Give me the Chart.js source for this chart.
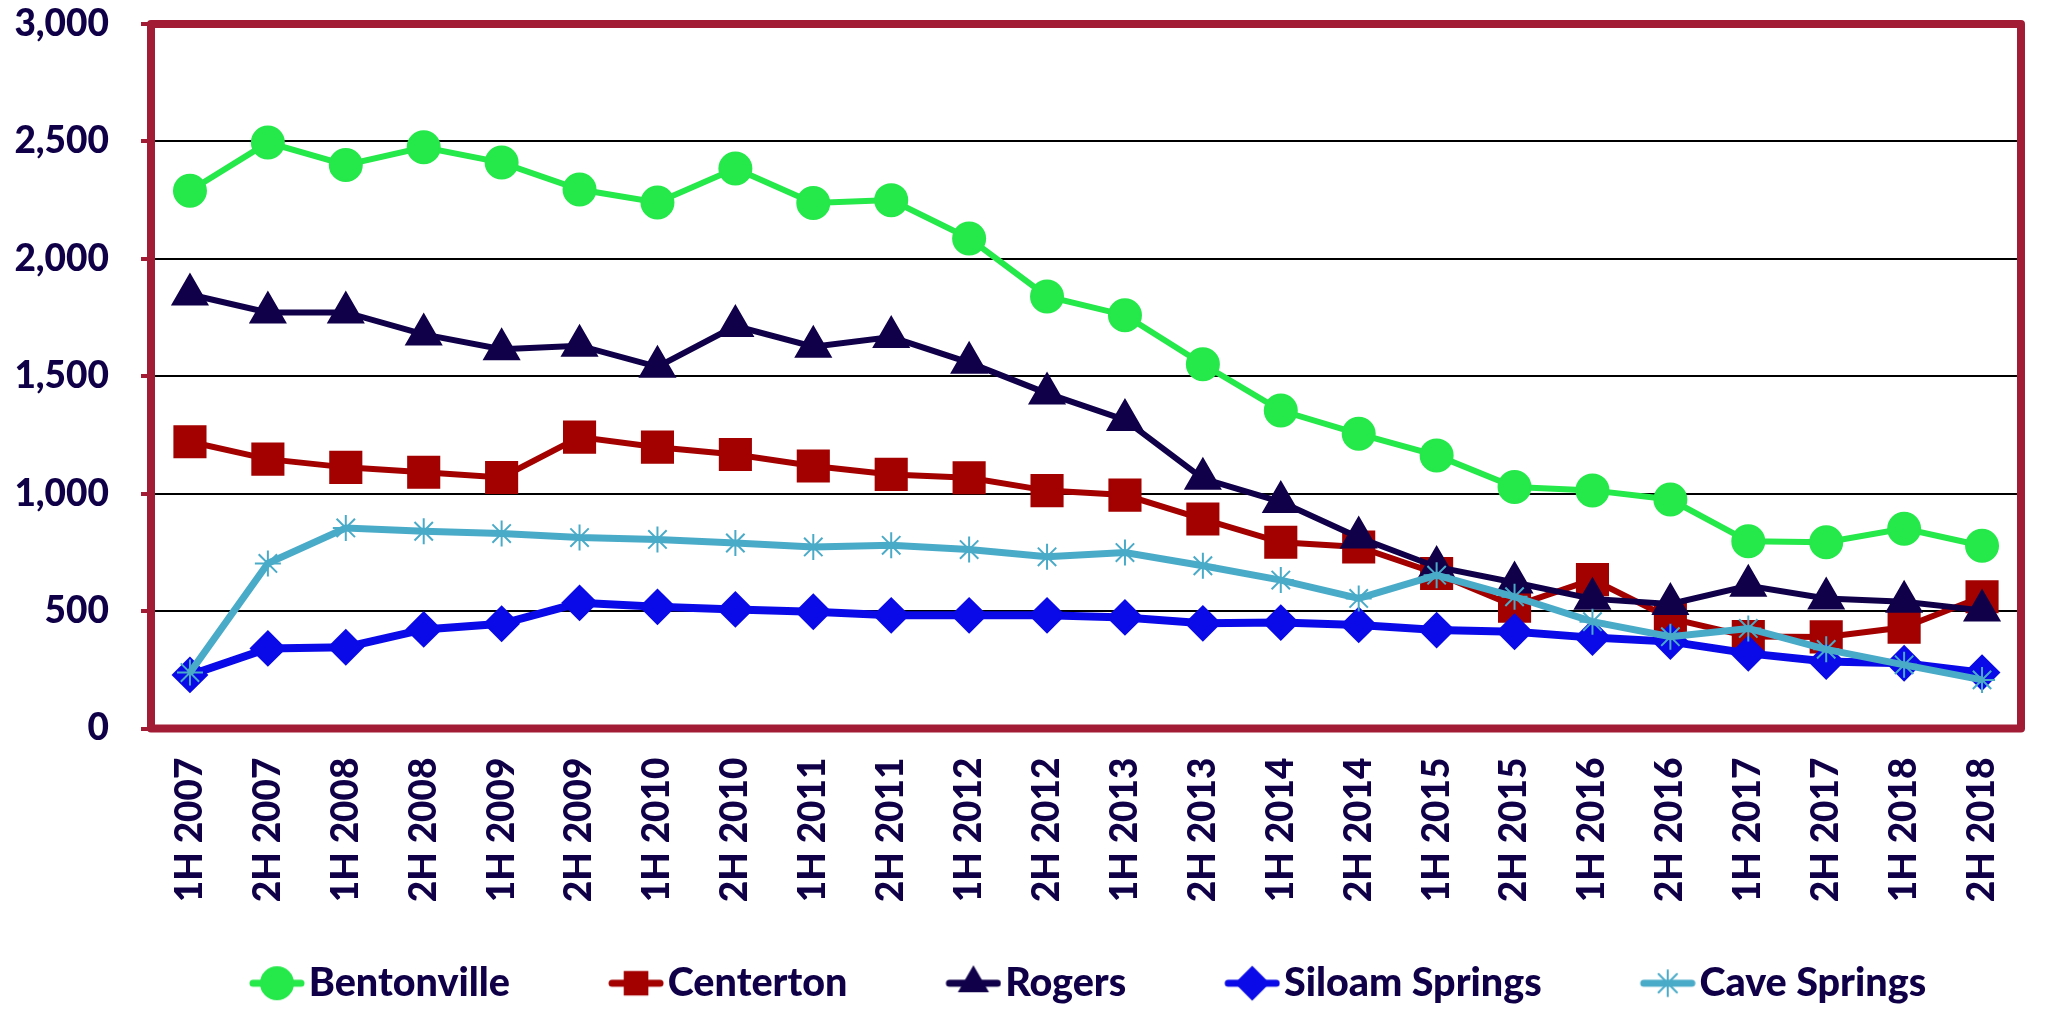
<!DOCTYPE html>
<html>
<head>
<meta charset="utf-8">
<title>Lots sold by city</title>
<script src="https://cdn.jsdelivr.net/npm/chart.js@4.4.1/dist/chart.umd.min.js"></script>
<style>
  html, body { margin: 0; padding: 0; background: #fff; overflow: hidden; }
  #wrap { width: 2045px; height: 1009px; }
</style>
</head>
<body>
<div id="wrap"><canvas id="chart" width="2045" height="1009"></canvas></div>
<script>
// data
const periods = ["1H 2007","2H 2007","1H 2008","2H 2008","1H 2009","2H 2009","1H 2010","2H 2010",
                 "1H 2011","2H 2011","1H 2012","2H 2012","1H 2013","2H 2013","1H 2014","2H 2014",
                 "1H 2015","2H 2015","1H 2016","2H 2016","1H 2017","2H 2017","1H 2018","2H 2018"];

const bentonville = [2290, 2495, 2400, 2475, 2410, 2295, 2240, 2385, 2238, 2250, 2087, 1840,
                     1760, 1551, 1354, 1255, 1163, 1028, 1014, 975, 797, 793, 851, 778];
const centerton   = [1221, 1147, 1112, 1091, 1069, 1241, 1198, 1167, 1118, 1082, 1068, 1013,
                     994, 892, 793, 773, 660, 521, 634, 469, 392, 390, 431, 561];
const rogers      = [1848, 1772, 1772, 1678, 1615, 1630, 1540, 1714, 1626, 1667, 1558, 1427,
                     1314, 1064, 965, 813, 688, 622, 552, 530, 608, 554, 540, 503];
const siloam      = [228, 341, 346, 422, 446, 535, 518, 507, 497, 482, 482, 482,
                     473, 448, 451, 441, 419, 412, 387, 370, 320, 285, 278, 238];
const cave        = [238, 703, 854, 840, 830, 813, 805, 790, 773, 780, 762, 731,
                     749, 693, 632, 554, 653, 561, 455, 391, 426, 337, 271, 207];

const yTicks = [0, 500, 1000, 1500, 2000, 2500, 3000];

// colors
const COL_BENT   = "#25E84A";  // green
const COL_CENT   = "#A30000";  // dark red
const COL_ROG    = "#10004A";  // navy
const COL_SIL    = "#0A0AE8";  // blue
const COL_CAVE   = "#4AABC8";  // teal
const COL_TEXT   = "#0F0048";
const COL_FRAME  = "#A21C36";

const FONT = "Lato, 'Open Sans', sans-serif";
const WEIGHT = "900";

// series setup
const series = [
  { label: "Bentonville",    data: bentonville, color: COL_BENT, style: "circle",   radius: 16, width: 6 },
  { label: "Centerton",      data: centerton,   color: COL_CENT, style: "rect",     radius: 22, width: 6 },
  { label: "Rogers",         data: rogers,      color: COL_ROG,  style: "triangle", radius: 20, width: 6 },
  { label: "Siloam Springs", data: siloam,      color: COL_SIL,  style: "rectRot",  radius: 17, width: 8 },
  { label: "Cave Springs",   data: cave,        color: COL_CAVE, style: "star",     radius: 13, width: 7 }
];

// legend geometry: box width, gap between items, icon with the marker at its right end
const LEG_FONT = 39.5, LEG_PAD = 10, LEG_BOX = 128;
const ICON_W = 160, ICON_H = 40, ICON_LINE = 56;
function makeIcon(s) {
  const c = document.createElement("canvas");
  c.width = ICON_W; c.height = ICON_H;
  const g = c.getContext("2d");
  const cx = ICON_W - ICON_LINE / 2;
  g.strokeStyle = s.color;
  g.fillStyle = s.color;
  g.lineCap = "round";
  g.lineWidth = 7;
  g.beginPath();
  g.moveTo(ICON_W - ICON_LINE + 4, ICON_H / 2);
  g.lineTo(ICON_W - 4, ICON_H / 2);
  g.stroke();
  g.lineWidth = 2;
  Chart.helpers.drawPoint(g, { pointStyle: s.style, radius: Math.min(s.radius, 16), borderWidth: 2, rotation: 0 }, cx, ICON_H / 2);
  return c;
}

// plot frame
const framePlugin = {
  id: "frame",
  beforeDatasetsDraw(chart) {
    const a = chart.chartArea, ctx = chart.ctx;
    ctx.save();
    ctx.strokeStyle = COL_FRAME;
    ctx.lineWidth = 8;
    ctx.lineJoin = "round";
    ctx.strokeRect(a.left, a.top, a.right - a.left, a.bottom - a.top);
    ctx.restore();
  }
};

const datasets = series.map((s, i) => ({
  label: s.label,
  data: s.data,
  borderColor: s.color,
  backgroundColor: s.color,
  borderWidth: s.width,
  pointStyle: s.style,
  pointRadius: s.radius,
  pointBorderWidth: 2,
  pointBackgroundColor: s.color,
  pointBorderColor: s.color,
  tension: 0,
  fill: false,
  order: series.length - i,   // later series on top
  icon: makeIcon(s)
}));

const chart = new Chart(document.getElementById("chart").getContext("2d"), {
  type: "line",
  data: { labels: periods, datasets: datasets },
  options: {
    responsive: false,
    devicePixelRatio: 1,
    animation: false,
    layout: { padding: { left: 0, right: 13, top: 0, bottom: -4 } },
    plugins: {
      tooltip: { enabled: false },
      legend: {
        position: "bottom",
        fullSize: false,
        align: "start",
        labels: {
          usePointStyle: true,
          pointStyleWidth: LEG_BOX,
          padding: LEG_PAD,
          color: COL_TEXT,
          font: { family: FONT, size: LEG_FONT, weight: WEIGHT },
          sort: (a, b) => a.datasetIndex - b.datasetIndex,
          generateLabels(ch) {
            const items = Chart.defaults.plugins.legend.labels.generateLabels(ch);
            items.forEach(it => { it.pointStyle = ch.data.datasets[it.datasetIndex].icon; });
            return items;
          }
        }
      }
    },
    scales: {
      x: {
        offset: true,
        grid: { display: false, drawTicks: false, offset: false },
        border: { display: false },
        ticks: {
          autoSkip: false,
          maxRotation: 90,
          minRotation: 90,
          padding: 29,
          color: COL_TEXT,
          font: { family: FONT, size: 37, weight: WEIGHT }
        },
        afterFit(scale) {
          scale.height = 225;
          scale.paddingLeft = 0;
          scale.paddingRight = 0;
        }
      },
      y: {
        min: 0,
        max: 3000,
        afterBuildTicks(scale) { scale.ticks = yTicks.map(v => ({ value: v })); },
        grid: {
          color: "#000",
          lineWidth: 2,
          tickColor: COL_FRAME,
          tickWidth: 4,
          tickLength: 10
        },
        border: { display: false },
        ticks: {
          padding: 32,
          color: COL_TEXT,
          font: { family: FONT, size: 37, weight: WEIGHT },
          callback: v => v.toLocaleString("en-US")
        },
        afterFit(scale) {
          scale.width = 151;
          scale.paddingTop = 23;
          scale.paddingBottom = 22;
        }
      }
    }
  },
  plugins: [framePlugin]
});
</script>
</body>
</html>
